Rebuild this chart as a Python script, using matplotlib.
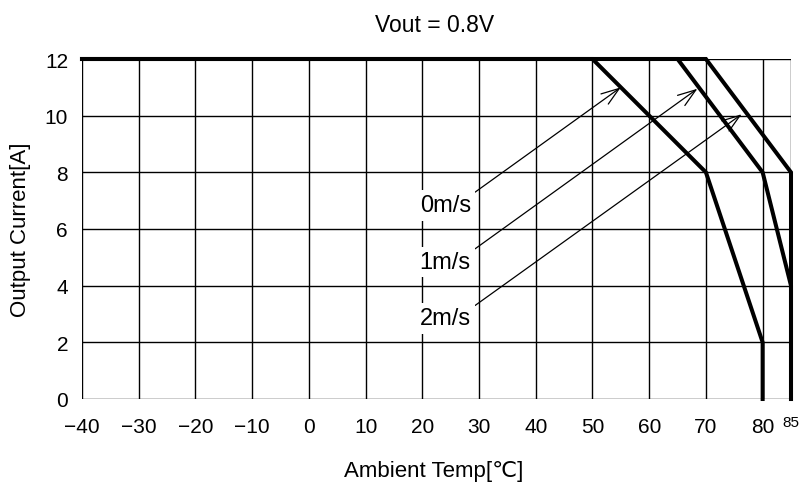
import matplotlib

matplotlib.use("Agg")
import matplotlib.pyplot as plt

plt.rcParams["font.family"] = ["Liberation Sans", "DejaVu Sans"]

# Derating curves (ambient temp [C], output current [A])
temp_0ms = [-40, 50, 70, 80, 80]
curr_0ms = [12, 12, 8, 2, 0]
temp_1ms = [-40, 65, 80, 85, 85]
curr_1ms = [12, 12, 8, 4, 0]
temp_2ms = [-40, 70, 85, 85]
curr_2ms = [12, 12, 8, 0]

# Annotation labels: text position, arrow start and arrow tip
labels = ["0m/s", "1m/s", "2m/s"]
label_x = [24.05, 24.05, 24.05]
label_y = [6.62, 4.62, 2.63]
start_x = [29.3, 29.3, 29.3]
start_y = [7.3, 5.3, 3.3]
tip_x = [55.0, 68.5, 76.3]
tip_y = [11.0, 10.95, 10.05]

x_ticks = [-40, -30, -20, -10, 0, 10, 20, 30, 40, 50, 60, 70, 80]
y_ticks = [0, 2, 4, 6, 8, 10, 12]

W, H = 806, 485
fig = plt.figure(figsize=(W / 100, H / 100), dpi=100)
ax = fig.add_axes([82 / W, 1 - 400 / H, (791 - 82) / W, 340 / H])

ax.set_xlim(-40, 85)
ax.set_ylim(0, 12)

# grid
for x in x_ticks + [85]:
    ax.axvline(x, color="black", lw=1.0, zorder=1)
for y in y_ticks:
    ax.axhline(y, color="black", lw=1.0, zorder=1)

for xs, ys in [(temp_0ms, curr_0ms), (temp_1ms, curr_1ms), (temp_2ms, curr_2ms)]:
    ax.plot(xs, ys, color="black", lw=2.9, solid_joinstyle="miter",
            solid_capstyle="projecting", zorder=3, clip_on=False)

for lab, lx, ly, sx, sy, tx, ty in zip(labels, label_x, label_y, start_x, start_y,
                                       tip_x, tip_y):
    ax.annotate("", xy=(tx, ty), xytext=(sx, sy),
                arrowprops=dict(arrowstyle="->,head_length=1.3,head_width=0.45",
                                color="black", lw=0.9, shrinkA=0, shrinkB=0),
                zorder=4)
    ax.text(lx, ly, lab, fontsize=17, ha="center", va="baseline", zorder=5,
            bbox=dict(facecolor="white", edgecolor="none", pad=3))

ax.set_xticks(x_ticks)
ax.set_xticklabels(["\u2212" + str(-t) if t < 0 else str(t) for t in x_ticks])
ax.set_yticks(y_ticks)
ax.tick_params(length=0, labelsize=15)
ax.tick_params(axis="x", pad=13)
ax.tick_params(axis="y", pad=10)
ax.annotate("85", xy=(85, 0), xytext=(0, -11.5), textcoords="offset points",
            fontsize=11, ha="center", va="top", annotation_clip=False)

for s in ax.spines.values():
    s.set_visible(False)

fig.text(435 / W, 1 - 32 / H, "Vout = 0.8V", fontsize=16.5, ha="center",
         va="baseline")
fig.text(434 / W, 1 - 477 / H, "Ambient Temp[\u2103]", fontsize=16, ha="center",
         va="baseline")
fig.text(20.5 / W, 1 - 230 / H, "Output Current[A]", fontsize=16, ha="center",
         va="center", rotation=90)

fig.savefig("out.png", dpi=100)
plt.close(fig)
